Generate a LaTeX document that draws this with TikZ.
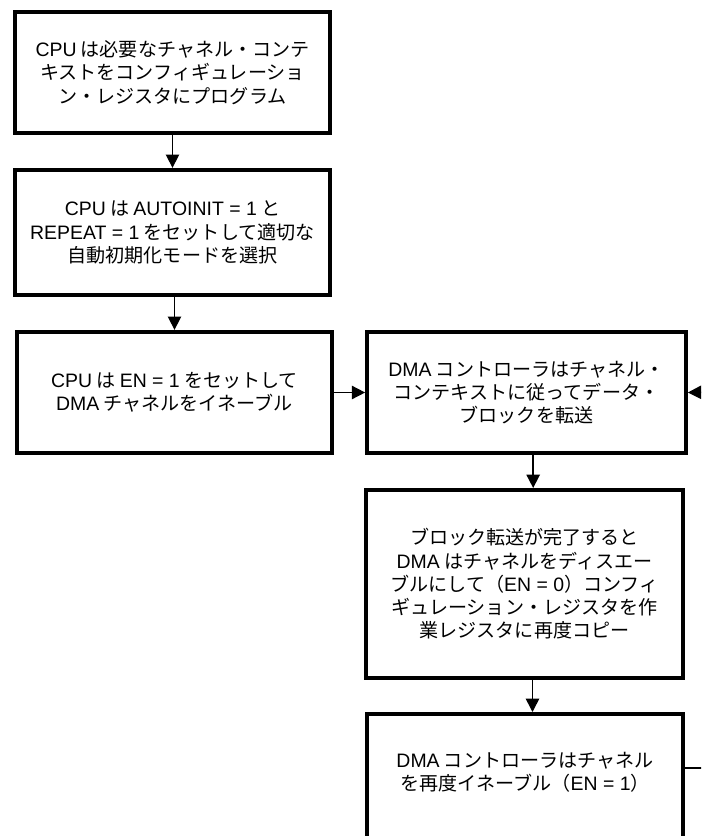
\documentclass[tikz,border=0pt]{standalone}
\usepackage{fontspec}
\setmainfont{Noto Sans CJK JP}
\newfontfamily\lat{Liberation Sans}[Scale=1.02]
\usetikzlibrary{arrows.meta}
\tikzset{
  box/.style={draw, line width=3pt, align=center, inner sep=0pt, font=\fontsize{14.3pt}{17.4pt}\selectfont},
  txt/.style={align=center, inner sep=0pt, font=\fontsize{14.3pt}{17.4pt}\selectfont},
  conn/.style={line width=1.2pt, -{Triangle[length=10pt,width=10pt]}},
  plain/.style={line width=1.2pt}
}
\begin{document}
\begin{tikzpicture}[x=0.75pt,y=-0.75pt]
\path[use as bounding box, clip] (0,0) rectangle (701,836);
\fill[white] (0,0) rectangle (701,836);
\node[box, minimum width=236pt, minimum height=91pt] (b1) at (172.5,72.5)
  {{\lat CPU} は必要なチャネル・コンテ\\キストをコンフィギュレーショ\\ン・レジスタにプログラム};
\node[box, minimum width=236pt, minimum height=94pt] (b2) at (172.5,232.5)
  {{\lat CPU} は {\lat AUTOINIT = 1} と\\{\lat REPEAT = 1} をセットして適切な\\自動初期化モードを選択};
\node[box, minimum width=236pt, minimum height=91pt] (b3) at (174.5,392.5)
  {{\lat CPU} は {\lat EN = 1} をセットして\\{\lat DMA} チャネルをイネーブル};
\node[box, minimum width=239pt, minimum height=91pt] (b4) at (526.5,392.5)
  {{\lat DMA} コントローラはチャネル・\\コンテキストに従ってデータ・\\ブロックを転送};
\node[box, minimum width=238pt, minimum height=141pt] (b5) at (524.5,584)
  {ブロック転送が完了すると\\{\lat DMA} はチャネルをディスエー\\ブルにして（{\lat EN = 0}）コンフィ\\ギュレーション・レジスタを作\\業レジスタに再度コピー};
\node[box, minimum width=237pt, minimum height=96pt] (b6) at (525,778) {};
\node[txt] (t6) at (525,772)
  {{\lat DMA} コントローラはチャネル\\を再度イネーブル（{\lat EN = 1}）};
\coordinate (lb) at (730,768);
\coordinate (lt) at (730,392);
\draw[conn] (b1.south) -- (b2.north);
\draw[conn] (b3.north |- b2.south) -- (b3.north);
\draw[conn] (b3.east) -- (b4.west);
\draw[conn] ([xshift=5pt]b4.south) -- ([xshift=5pt]b4.south |- b5.north);
\draw[conn] ([xshift=6pt]b5.south) -- ([xshift=6pt]b5.south |- b6.north);
\draw[plain] ([yshift=7.5pt]b6.east) -- (lb) -- (lt);
\draw[conn] (lt) -- (b4.east);
\end{tikzpicture}
\end{document}
